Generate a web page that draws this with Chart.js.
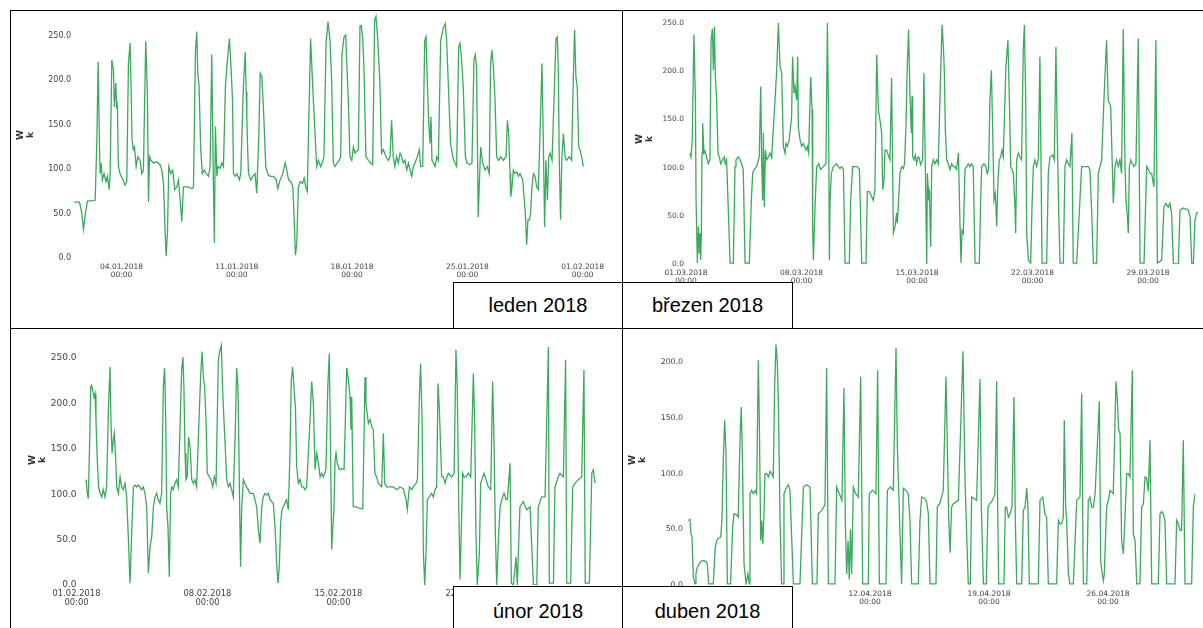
<!DOCTYPE html>
<html>
<head>
<meta charset="utf-8">
<script src="https://cdn.jsdelivr.net/npm/chart.js@4.4.0/dist/chart.umd.min.js"></script>
<style>
  body { margin: 0; background: #fff; width: 1203px; height: 628px; overflow: hidden; position: relative;
         font-family: "Liberation Sans", Arial, sans-serif; }
  canvas { position: absolute; z-index: 1; }
  .line { position: absolute; background: #000; z-index: 2; }
  .tag { position: absolute; height: 47px; border: 1px solid #000; background: #fff; box-sizing: border-box;
         font-size: 20px; display: flex; align-items: center; justify-content: center; z-index: 3; }
</style>
</head>
<body>
<div class="line" style="left:10px;top:10px;width:1193px;height:1px"></div>
<div class="line" style="left:10px;top:10px;width:1px;height:618px"></div>
<div class="line" style="left:622px;top:10px;width:1px;height:618px"></div>
<div class="line" style="left:10px;top:328px;width:1193px;height:1px"></div>

<canvas id="jan" width="611" height="317" style="left:11px;top:11px"></canvas>
<canvas id="mar" width="578" height="317" style="left:623px;top:11px"></canvas>
<canvas id="feb" width="611" height="299" style="left:11px;top:329px"></canvas>
<canvas id="apr" width="578" height="299" style="left:623px;top:329px"></canvas>

<div class="tag" style="left:453px;top:282px;width:170px">leden 2018</div>
<div class="tag" style="left:622px;top:282px;width:171px">březen 2018</div>
<div class="tag" style="left:453px;top:586px;width:170px;height:50px">únor 2018</div>
<div class="tag" style="left:622px;top:586px;width:171px;height:50px">duben 2018</div>

<script>
// leden 2018 (days since 01.01 00:00, kW)
const janDay = [
  0.12,0.45,0.59,0.69,0.81,0.93,1.40,
  1.50,1.58,1.66,1.70,1.76,1.84,1.94,2.06,2.14,2.25,2.31,
  2.41,2.51,2.57,2.65,2.71,2.75,2.81,2.91,3.08,3.22,3.32,
  3.42,3.52,3.58,3.64,3.72,3.79,3.89,3.99,4.13,4.23,4.33,
  4.47,4.57,4.64,4.70,4.78,4.94,5.14,5.34,5.45,
  5.55,5.65,5.71,5.79,5.87,5.99,6.11,6.23,6.36,6.46,6.56,6.66,6.76,6.92,7.06,7.27,7.37,
  7.49,7.57,7.63,7.71,7.81,7.91,8.02,8.14,8.28,8.38,
  8.48,8.58,8.64,8.70,8.79,8.85,8.99,9.09,9.19,
  9.31,9.43,9.55,9.64,9.74,9.80,9.90,10.00,10.16,10.24,
  10.40,10.51,10.57,10.61,10.65,10.71,10.85,10.97,11.11,11.21,
  11.34,11.42,11.52,11.62,11.76,11.92,12.06,12.23,12.39,12.49,12.63,12.79,12.94,13.04,13.14,13.28,13.40,
  13.48,13.56,13.64,13.74,13.85,13.99,14.09,14.19,14.28,
  14.48,14.61,14.75,14.85,14.95,15.09,15.21,15.29,
  15.42,15.54,15.66,15.76,15.86,15.96,16.10,16.22,16.31,
  16.39,16.51,16.61,16.67,16.77,16.87,16.98,17.08,17.18,17.28,17.38,
  17.48,17.56,17.64,17.72,17.84,17.99,18.13,18.25,
  18.37,18.45,18.55,18.69,18.79,18.90,19.06,19.20,19.30,19.40,19.50,19.60,19.70,19.81,19.91,20.01,20.11,20.21,20.32,20.42,20.62,20.72,20.82,20.96,21.08,21.16,21.29,
  21.41,21.49,21.57,21.65,21.73,21.79,21.85,21.94,22.04,22.14,22.24,
  22.38,22.54,22.66,22.74,22.84,22.98,23.11,23.25,23.35,
  23.47,23.55,23.65,23.75,23.88,23.98,24.16,24.28,
  24.40,24.48,24.56,24.66,24.72,24.81,24.93,25.07,25.21,25.33,
  25.41,25.49,25.58,25.68,25.78,25.90,26.02,26.18,26.35,26.43,26.51,26.59,26.63,26.71,
  26.79,26.89,27.00,27.10,27.20,27.36,27.44,27.52,27.60,27.68,27.76,27.84,27.92,28.01,28.11,28.21,28.31,
  28.41,28.53,28.61,28.69,28.77,28.86,28.94,29.02,29.14,
  29.26,29.38,29.46,29.52,29.58,29.66,29.74,29.83,29.93,30.03,30.19,30.33,
  30.43,30.51,30.59,30.67,30.76,30.84,30.94,31.04
];
const janKW = [
  63,63,50,32,50,64,65,
  129,221,129,95,107,88,95,86,92,77,95,
  223,212,170,197,170,172,103,95,88,82,86,
  219,242,193,133,122,125,103,114,110,95,99,
  244,185,63,114,110,107,108,105,99,
  84,28,2,28,103,95,99,77,80,88,65,41,80,80,80,78,80,
  234,255,208,193,122,95,99,95,92,103,
  229,84,17,148,92,103,101,107,103,
  193,223,247,219,178,95,92,95,88,95,
  193,232,187,159,129,95,88,92,95,73,
  140,208,204,168,103,93,92,92,88,78,88,95,107,99,88,86,80,
  46,3,16,80,86,84,90,80,75,
  247,193,140,103,110,103,108,114,
  242,266,245,200,107,103,107,110,114,
  230,249,251,223,178,114,110,125,118,120,122,
  261,262,249,215,114,110,107,105,
  268,272,249,197,118,122,114,110,114,155,114,103,114,107,118,114,107,110,99,107,92,103,107,114,122,103,103,
  245,249,197,155,129,159,110,107,103,114,110,
  245,259,264,245,197,129,114,107,103,
  238,242,223,193,114,107,105,107,
  223,229,215,46,80,125,107,99,103,95,
  219,234,215,178,114,110,114,110,114,155,140,95,69,80,
  99,95,97,92,95,88,69,50,15,43,43,50,80,95,92,80,77,
  140,219,133,35,110,65,114,118,110,
  178,247,249,215,110,43,114,140,114,110,114,110,
  200,257,204,193,125,122,114,103
];

// únor 2018 (days since 01.02 00:00, kW)
const febDay = [
  0.51,0.58,0.63,0.69,0.76,0.81,0.86,0.94,0.99,1.04,1.11,1.18,1.26,1.35,1.43,1.52,1.61,
  1.70,1.79,1.84,1.90,1.97,2.02,2.08,2.15,2.24,2.33,2.41,2.50,2.59,
  2.68,2.77,2.86,2.95,3.04,3.13,3.22,3.30,3.39,3.48,3.57,3.66,3.75,
  3.84,3.93,4.02,4.11,4.20,4.28,4.37,4.46,4.55,
  4.64,4.71,4.77,4.82,4.89,4.96,5.03,5.10,5.17,5.26,5.35,5.44,
  5.62,5.69,5.74,5.80,5.85,5.92,5.99,6.07,6.16,6.24,6.33,6.42,
  6.56,6.64,6.71,6.78,6.85,6.92,6.99,7.10,7.19,7.28,7.37,7.46,
  7.58,7.67,7.74,7.81,7.88,7.95,8.03,8.12,8.20,8.29,8.38,
  8.49,8.56,8.63,8.67,8.72,8.77,8.83,8.92,9.00,9.09,9.18,9.27,
  9.45,9.63,9.72,9.81,9.90,9.98,10.07,10.16,10.25,10.34,10.43,10.52,
  10.61,10.70,10.77,10.84,10.91,10.98,11.05,11.14,11.23,11.32,
  11.41,11.48,11.55,11.63,11.70,11.77,11.86,11.95,12.03,12.12,12.21,12.30,
  12.48,12.57,12.66,12.75,12.84,12.93,13.02,13.10,13.19,13.33,
  13.43,13.51,13.58,13.64,13.69,13.76,13.82,13.87,13.94,14.05,14.17,14.30,
  14.44,14.53,14.62,14.67,14.71,14.79,14.97,15.15,15.30,
  15.42,15.47,15.60,15.69,15.78,15.86,15.95,16.04,16.13,16.31,16.40,16.47,16.58,16.76,16.93,17.11,17.29,17.47,17.61,17.68,17.79,17.92,18.00,18.15,18.22,
  18.33,18.39,18.47,18.54,18.61,18.68,18.75,18.86,18.98,19.07,19.16,19.25,
  19.32,19.39,19.47,19.52,19.61,19.70,19.79,19.87,20.05,20.18,
  20.28,20.35,20.43,20.50,20.57,20.64,20.71,20.82,20.94,21.07,
  21.21,21.28,21.35,21.42,21.53,21.60,21.71,21.78,21.89,22.01,22.14,
  22.24,22.31,22.39,22.46,22.55,22.64,22.73,22.85,22.96,23.03,
  23.17,23.24,23.35,23.49,23.56,23.70,23.88,24.06,24.24,24.42,24.60,24.68,24.86,25.04,
  25.22,25.27,25.49,25.57,25.75,25.84,26.02,
  26.14,26.20,26.41,26.52,26.64,26.82,27.00,
  27.12,27.19,27.41,27.54,27.62,27.71
];
const febKW = [
  116,101,95,145,218,220,215,207,211,182,138,108,101,97,105,97,108,
  189,240,182,145,160,167,145,108,101,119,108,105,112,
  97,53,2,57,108,110,108,110,108,105,108,101,86,
  13,42,53,86,97,101,94,90,101,
  218,239,182,86,64,9,101,108,105,112,116,108,
  237,251,218,145,116,119,163,152,116,112,116,108,
  189,233,257,229,218,182,123,119,116,108,119,112,
  248,259,264,215,182,152,116,108,112,105,97,
  174,239,218,163,86,20,86,116,112,108,105,101,
  101,86,61,46,86,97,101,99,101,94,92,90,
  64,24,2,20,68,83,86,90,94,83,
  145,226,240,215,196,130,112,116,108,108,105,108,
  182,224,200,127,145,134,119,123,119,127,
  218,255,145,39,61,83,138,145,134,127,128,127,
  239,226,207,171,207,86,86,84,84,
  229,200,178,182,174,171,123,119,112,108,167,112,108,108,108,105,108,106,94,83,108,105,108,112,116,
  211,244,182,35,0,35,94,97,101,97,105,108,
  222,196,145,119,119,112,119,123,119,123,
  259,218,86,6,64,123,119,119,123,119,
  233,178,53,0,35,112,119,123,116,108,105,
  224,163,53,0,50,86,94,101,94,94,
  134,2,0,31,0,86,92,83,86,0,0,86,97,97,
  262,2,2,108,119,123,119,
  248,2,2,108,112,116,119,
  237,2,2,123,127,112
];

// březen 2018 (days since 01.03 00:00, kW)
const marDay = [
  0.24,0.30,0.38,0.48,0.57,0.61,0.69,0.75,0.81,0.85,0.89,0.93,0.97,1.01,1.09,1.15,1.25,1.35,1.45,
  1.52,1.60,1.66,1.72,1.78,1.86,1.94,2.02,2.10,2.22,2.32,2.38,2.46,
  2.57,2.67,2.87,2.97,3.03,3.17,3.27,3.37,3.47,
  3.58,3.84,3.96,4.04,4.12,4.28,4.44,
  4.53,4.59,4.65,4.69,4.75,4.81,4.89,4.99,5.09,5.19,
  5.49,5.60,5.70,5.80,5.90,6.00,6.06,6.14,6.26,
  6.40,6.46,6.55,6.61,6.71,6.77,6.81,6.91,7.01,7.11,7.27,7.35,7.43,
  7.56,7.64,7.68,7.72,7.76,7.82,7.92,8.04,8.16,8.32,8.48,
  8.57,8.65,8.69,8.73,8.81,8.93,9.13,9.23,9.33,9.43,9.54,
  9.64,9.90,9.98,10.10,10.24,10.38,10.51,
  10.65,10.91,10.99,11.11,11.25,11.35,11.45,
  11.56,11.66,11.76,11.86,11.92,12.00,12.06,12.16,12.36,
  12.46,12.57,12.67,12.77,12.81,12.97,13.07,13.17,
  13.25,13.33,13.41,13.49,13.58,13.66,13.70,13.74,13.82,13.90,13.98,14.06,14.14,14.22,
  14.34,14.42,14.50,14.59,14.63,14.67,14.71,14.75,14.83,14.89,14.99,15.09,15.19,15.29,
  15.39,15.52,15.60,15.66,15.72,15.80,15.90,16.00,16.10,16.20,16.30,16.40,16.51,
  16.61,16.67,16.73,16.81,16.91,17.01,17.11,17.21,17.31,17.41,17.52,17.78,17.86,17.92,18.06,18.18,18.26,18.34,
  18.42,18.51,18.59,18.67,18.75,18.83,18.91,18.99,19.07,19.15,19.23,
  19.39,19.51,19.60,19.68,19.76,19.84,19.94,19.98,20.04,20.14,20.24,20.34,
  20.44,20.51,20.59,20.65,20.75,20.89,20.97,21.05,21.15,21.25,21.35,
  21.45,21.58,21.86,21.96,22.06,22.22,22.32,
  22.42,22.50,22.59,22.67,22.87,22.97,23.07,23.17,23.27,23.39,23.47,23.68,23.98,24.18,24.38,24.48,24.59,24.69,24.89,24.99,25.09,25.19,
  25.33,25.49,25.59,25.74,25.90,26.00,26.10,26.20,26.30,26.40,
  26.50,26.61,26.67,26.75,26.81,26.87,26.95,27.05,27.15,27.27,
  27.41,27.52,27.76,27.92,28.02,28.12,28.22,28.36,
  28.48,28.57,28.83,28.97,29.07,29.23,29.33,29.43,29.54,29.84,29.94,30.14,30.44,30.55,30.65,30.75,30.85,30.95,31.05
];
const marKW = [
  115,111,129,238,170,66,1,39,11,32,4,32,115,146,115,117,111,104,108,
  232,244,201,246,194,170,115,111,104,108,111,104,108,
  53,1,1,101,108,111,108,104,98,
  1,1,66,94,98,101,111,
  184,101,66,136,59,118,108,111,115,110,
  198,250,205,198,122,115,125,122,129,
  153,215,177,184,170,215,142,129,122,125,118,122,115,
  194,160,35,4,25,59,101,104,98,101,104,
  250,136,4,66,94,101,104,101,99,101,98,
  1,1,66,101,101,101,98,
  1,1,75,75,70,66,77,
  217,160,149,136,77,87,118,118,108,
  193,32,39,53,42,94,101,99,
  104,142,205,243,170,136,174,111,108,113,104,111,110,103,
  108,198,108,0,94,80,66,77,18,101,108,104,108,104,
  170,248,225,198,139,108,104,98,104,101,101,98,115,
  39,1,35,32,98,101,104,101,104,101,1,1,66,101,104,101,94,98,
  170,201,136,66,73,39,87,108,111,118,111,
  205,232,170,101,98,94,59,32,108,115,111,108,
  222,248,170,32,4,1,59,101,108,101,108,
  215,1,1,94,111,113,108,
  225,136,53,1,1,101,108,104,101,136,1,1,101,101,101,98,53,1,1,94,101,108,
  170,232,170,163,63,101,108,101,108,94,
  244,101,66,49,32,101,108,104,101,104,
  234,1,1,101,98,94,94,80,
  232,1,4,59,63,59,63,53,0,0,56,58,56,49,1,0,46,53,54
];

// duben 2018 (days since 01.04 00:00, kW)
const aprDay = [
  0.31,0.41,0.47,0.53,0.61,0.71,0.76,0.84,0.92,1.04,1.20,1.35,1.43,1.51,1.78,1.90,1.98,2.08,2.22,2.29,2.37,2.45,2.53,2.61,2.80,
  2.92,3.00,3.16,3.25,3.31,3.37,3.43,3.49,3.59,3.71,3.82,3.90,
  3.94,4.04,4.14,4.24,4.33,4.43,4.49,4.57,4.63,4.69,4.76,4.82,4.92,5.02,5.12,5.22,5.31,
  5.39,5.47,5.55,5.61,5.71,5.80,5.90,5.94,6.10,6.20,6.29,6.40,6.49,6.88,
  7.08,7.27,7.47,7.55,7.61,7.88,7.96,8.16,8.35,8.45,8.55,8.94,
  9.04,9.20,9.35,9.47,9.55,9.63,9.71,9.78,9.85,9.92,
  10.02,10.16,10.31,10.45,10.57,10.90,10.96,11.15,11.35,11.45,11.55,11.94,
  12.02,12.20,12.37,12.53,12.61,12.76,12.86,12.96,13.10,13.25,13.35,13.45,13.84,
  13.94,14.04,14.20,14.33,14.43,14.53,14.88,14.96,15.10,15.31,15.47,15.55,15.63,15.71,15.80,15.90,16.20,
  16.47,16.59,16.70,16.78,16.90,16.98,17.27,17.47,17.55,17.67,17.84,17.94,18.04,18.20,18.35,
  18.45,18.51,18.57,18.88,18.96,19.04,19.14,19.24,19.35,19.47,19.55,19.63,19.92,
  20.02,20.12,20.22,20.29,20.37,20.90,21.00,21.16,21.29,21.39,21.49,21.98,
  22.08,22.18,22.27,22.37,22.43,22.51,22.57,22.67,22.76,22.96,
  23.16,23.35,23.45,23.55,23.75,23.84,23.94,24.04,24.14,24.24,
  24.49,24.57,24.63,24.73,24.78,24.92,25.02,25.12,25.31,
  25.47,25.55,25.63,25.71,25.80,25.90,26.00,26.10,26.20,26.29,
  26.43,26.49,26.59,26.69,26.88,26.98,27.08,27.18,27.27,27.37,
  27.47,27.57,27.96,28.06,28.16,28.25,28.35,28.45,28.94,
  29.04,29.14,29.24,29.33,29.43,29.53,29.92,30.02,30.12
];
const aprKW = [
  58,59,46,43,7,1,10,16,18,21,22,21,19,1,1,34,40,42,43,58,112,148,118,1,1,
  52,64,63,61,103,139,160,118,19,1,10,1,
  82,85,82,85,82,202,148,40,58,37,61,100,100,97,102,100,97,
  178,216,199,163,58,1,1,82,88,90,85,40,1,1,
  88,90,88,38,1,1,64,67,72,195,1,1,
  88,82,76,177,55,10,40,5,50,10,
  88,82,79,187,1,1,82,85,82,193,1,1,
  85,88,85,213,124,49,1,87,85,82,58,1,1,
  58,79,78,75,64,1,1,70,73,85,187,124,60,29,70,73,76,
  210,94,40,1,1,79,76,185,70,1,1,70,73,76,82,
  183,70,1,1,70,70,61,64,70,169,58,1,1,
  67,70,87,70,1,1,76,79,64,61,1,1,
  58,55,55,60,148,70,58,10,1,1,
  76,79,172,1,1,76,79,70,70,82,
  165,22,13,4,10,70,76,85,82,
  183,166,139,136,40,28,60,100,100,97,
  193,46,40,1,1,70,73,97,96,84,
  130,1,1,64,66,64,58,1,1,
  58,55,49,49,130,1,1,70,82
];

const janTickDays = [3, 10, 17, 24, 31];
const janTickLabels = ['04.01.2018', '11.01.2018', '18.01.2018', '25.01.2018', '01.02.2018'];
const febTickDays = [0, 7, 14, 21];
const febTickLabels = ['01.02.2018', '08.02.2018', '15.02.2018', '22.02.2018'];
const marTickDays = [0, 7, 14, 21, 28];
const marTickLabels = ['01.03.2018', '08.03.2018', '15.03.2018', '22.03.2018', '29.03.2018'];
const aprTickDays = [4, 11, 18, 25];
const aprTickLabels = ['05.04.2018', '12.04.2018', '19.04.2018', '26.04.2018'];
const tickTime = '00:00';
const kwTicks = [0, 50, 100, 150, 200, 250];
const kwTicksApr = [0, 50, 100, 150, 200];

const lineColor = '#3aab5c';
const textColor = '#444';

// box = canvas left/top/width/height, plot = chart area in page px
const panels = [
  { id: 'jan', day: janDay, kw: janKW, tickDays: janTickDays, tickLabels: janTickLabels, yTicks: kwTicks,
    box: [11, 11, 611, 317], plot: [72.1, 12, 584.3, 258], xMax: 31.1, yMax: 277,
    yFont: 8, xFont: 7.5, yPad: 1, xPad: 4.9, titlePad: 5 },
  { id: 'mar', day: marDay, kw: marKW, tickDays: marTickDays, tickLabels: marTickLabels, yTicks: kwTicks,
    box: [623, 11, 578, 317], plot: [686, 14, 1198.3, 264], xMax: 31.05, yMax: 259.3,
    yFont: 7.5, xFont: 7.5, yPad: 2, xPad: 4.9, titlePad: 12 },
  { id: 'feb', day: febDay, kw: febKW, tickDays: febTickDays, tickLabels: febTickLabels, yTicks: kwTicks,
    box: [11, 329, 611, 299], plot: [76.5, 335, 600.4, 585], xMax: 28, yMax: 275.3,
    yFont: 9, xFont: 8.4, yPad: 0, xPad: 4.4, titlePad: 17 },
  { id: 'apr', day: aprDay, kw: aprKW, tickDays: aprTickDays, tickLabels: aprTickLabels, yTicks: kwTicksApr,
    box: [623, 329, 578, 299], plot: [683, 335, 1195.55, 585], xMax: 30.15, yMax: 224.6,
    yFont: 7.8, xFont: 7.5, yPad: 0, xPad: 4.9, titlePad: 4.5 },
];

panels.forEach((p) => {
  const [cl, ct, cw, ch] = p.box;
  const [pl, pt, pr, pb] = p.plot;
  new Chart(document.getElementById(p.id), {
    type: 'line',
    data: {
      datasets: [{
        data: p.day.map((d, i) => ({ x: d, y: p.kw[i] })),
        borderColor: lineColor,
        borderWidth: 1.3,
        pointRadius: 0,
        tension: 0,
        fill: false,
      }],
    },
    options: {
      responsive: false,
      animation: false,
      devicePixelRatio: 1,
      layout: { padding: { left: 0, top: pt - ct, right: cl + cw - pr, bottom: 0 } },
      plugins: { legend: { display: false }, tooltip: { enabled: false } },
      scales: {
        x: {
          type: 'linear', min: 0, max: p.xMax, bounds: 'data',
          grid: { display: false, drawTicks: false }, border: { display: false },
          afterBuildTicks: (s) => { s.ticks = p.tickDays.map((v) => ({ value: v })); },
          afterFit: (s) => {
            s.height = ct + ch - pb;
            s.paddingLeft = 0; s.paddingRight = 0; s.paddingTop = 0; s.paddingBottom = 0;
          },
          ticks: {
            autoSkip: false, maxRotation: 0, minRotation: 0, padding: p.xPad, color: textColor,
            font: { family: 'DejaVu Sans', size: p.xFont, lineHeight: 1.1 },
            callback: (v) => {
              const i = p.tickDays.indexOf(v);
              return i < 0 ? '' : [p.tickLabels[i], tickTime];
            },
          },
        },
        y: {
          type: 'linear', min: 0, max: p.yMax, bounds: 'data',
          grid: { display: false, drawTicks: false }, border: { display: false },
          afterBuildTicks: (s) => { s.ticks = p.yTicks.map((v) => ({ value: v })); },
          afterFit: (s) => {
            s.width = pl - cl;
            s.paddingLeft = 0; s.paddingRight = 0; s.paddingTop = 0; s.paddingBottom = 0;
          },
          ticks: {
            autoSkip: false, padding: p.yPad, color: textColor,
            font: { family: 'DejaVu Sans', size: p.yFont },
            callback: (v) => v.toFixed(1),
          },
          title: {
            display: true, text: ['W', 'k'], color: '#333',
            font: { family: 'DejaVu Sans', size: 9, weight: 'bold', lineHeight: 1.1 },
            padding: { top: p.titlePad, bottom: 0 },
          },
        },
      },
    },
  });
});
</script>
</body>
</html>
